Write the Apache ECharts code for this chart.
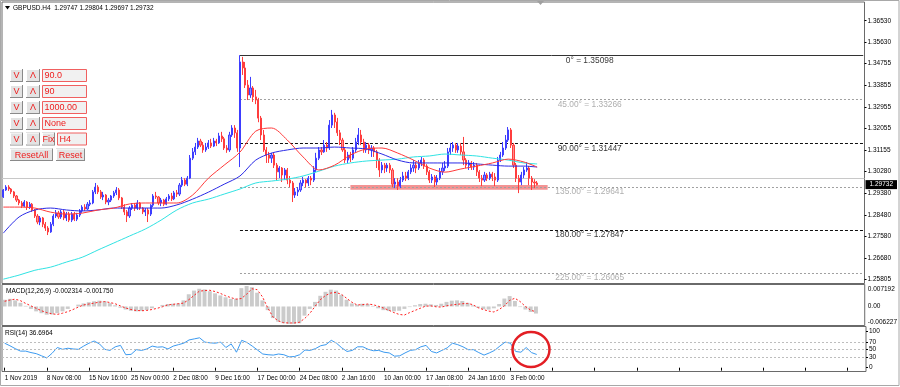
<!DOCTYPE html>
<html><head><meta charset="utf-8">
<script src="https://cdn.jsdelivr.net/npm/echarts@6/dist/echarts.min.js"></script>
<style>html,body{margin:0;padding:0;background:#fff}#c{width:900px;height:387px}</style>
</head><body><div id="c"></div>
<script>
// ---------- DATA ----------
const chartTitle = 'GBPUSD.H4  1.29747 1.29804 1.29697 1.29732';
const macdTitle = 'MACD(12,26,9) -0.002314 -0.001750';
const rsiTitle = 'RSI(14) 36.6964';
const dateTicks = ['1 Nov 2019','8 Nov 08:00','15 Nov 16:00','25 Nov 00:00','2 Dec 08:00','9 Dec 16:00','17 Dec 00:00','24 Dec 08:00','2 Jan 16:00','10 Jan 00:00','17 Jan 08:00','24 Jan 16:00','3 Feb 00:00'];
const totalSlots = 328;      // price slots (2 H4 bars each) incl. right shift
const indSlots = 164;        // indicator slots (4 H4 bars each)
const slotsPerDateTick = 8;  // indicator slots between date labels
const priceTicks = [1.36530,1.35630,1.34755,1.33855,1.32955,1.32055,1.31155,1.30280,1.29380,1.28480,1.27580,1.26680,1.25805];
const priceRange = [1.25631, 1.37306];
const lastPrice = 1.29732;
// [open, close, low, high]
const candles = [
[1.2922,1.2951,1.2918,1.2955],[1.2951,1.2963,1.2947,1.2971],[1.2963,1.2955,1.2947,1.2971],[1.2955,1.2943,1.2934,1.2959],
[1.2943,1.2926,1.2918,1.2947],[1.2926,1.2909,1.2901,1.2930],[1.2909,1.2897,1.2888,1.2914],[1.2897,1.2884,1.2876,1.2905],
[1.2884,1.2901,1.2880,1.2909],[1.2901,1.2880,1.2868,1.2905],[1.2880,1.2892,1.2872,1.2901],[1.2892,1.2868,1.2860,1.2897],
[1.2868,1.2843,1.2835,1.2872],[1.2843,1.2818,1.2809,1.2851],[1.2818,1.2835,1.2805,1.2843],[1.2835,1.2809,1.2797,1.2839],
[1.2809,1.2793,1.2781,1.2818],[1.2793,1.2777,1.2764,1.2801],[1.2777,1.2809,1.2773,1.2818],[1.2809,1.2843,1.2801,1.2851],
[1.2843,1.2856,1.2835,1.2868],[1.2856,1.2839,1.2831,1.2864],[1.2839,1.2860,1.2831,1.2868],[1.2860,1.2835,1.2826,1.2868],
[1.2835,1.2851,1.2822,1.2860],[1.2851,1.2826,1.2818,1.2860],[1.2826,1.2851,1.2818,1.2860],[1.2851,1.2830,1.2822,1.2860],
[1.2830,1.2847,1.2822,1.2856],[1.2847,1.2864,1.2839,1.2872],[1.2864,1.2880,1.2856,1.2888],[1.2880,1.2872,1.2864,1.2892],
[1.2872,1.2892,1.2868,1.2901],[1.2892,1.2897,1.2884,1.2909],[1.2897,1.2943,1.2892,1.2951],[1.2943,1.2963,1.2934,1.2980],
[1.2963,1.2943,1.2934,1.2971],[1.2943,1.2922,1.2914,1.2951],[1.2922,1.2930,1.2909,1.2943],[1.2930,1.2901,1.2892,1.2934],
[1.2901,1.2909,1.2888,1.2918],[1.2909,1.2926,1.2901,1.2930],[1.2926,1.2939,1.2918,1.2947],[1.2939,1.2951,1.2930,1.2963],
[1.2951,1.2918,1.2909,1.2959],[1.2918,1.2880,1.2872,1.2922],[1.2880,1.2860,1.2847,1.2892],[1.2860,1.2843,1.2818,1.2868],
[1.2843,1.2876,1.2835,1.2884],[1.2876,1.2888,1.2868,1.2897],[1.2888,1.2876,1.2864,1.2897],[1.2876,1.2897,1.2868,1.2909],
[1.2897,1.2876,1.2868,1.2901],[1.2876,1.2860,1.2851,1.2880],[1.2860,1.2868,1.2843,1.2876],[1.2868,1.2851,1.2818,1.2876],
[1.2851,1.2888,1.2843,1.2892],[1.2888,1.2926,1.2880,1.2934],[1.2926,1.2922,1.2914,1.2943],[1.2922,1.2897,1.2888,1.2926],
[1.2897,1.2909,1.2884,1.2918],[1.2909,1.2892,1.2884,1.2914],[1.2892,1.2914,1.2888,1.2922],[1.2914,1.2926,1.2905,1.2934],
[1.2926,1.2914,1.2905,1.2939],[1.2914,1.2939,1.2909,1.2947],[1.2939,1.2934,1.2922,1.2951],[1.2934,1.2971,1.2926,1.2980],
[1.2971,1.2992,1.2963,1.3005],[1.2992,1.2975,1.2967,1.3000],[1.2975,1.3000,1.2967,1.3009],[1.3000,1.3083,1.2996,1.3096],
[1.3083,1.3109,1.3075,1.3125],[1.3109,1.3129,1.3096,1.3146],[1.3129,1.3154,1.3121,1.3167],[1.3154,1.3137,1.3129,1.3163],
[1.3137,1.3117,1.3105,1.3150],[1.3117,1.3129,1.3109,1.3146],[1.3129,1.3146,1.3121,1.3158],[1.3146,1.3133,1.3125,1.3163],
[1.3133,1.3154,1.3129,1.3167],[1.3154,1.3146,1.3133,1.3163],[1.3146,1.3175,1.3142,1.3188],[1.3175,1.3163,1.3150,1.3192],
[1.3163,1.3125,1.3117,1.3171],[1.3125,1.3117,1.3105,1.3137],[1.3117,1.3179,1.3109,1.3192],[1.3179,1.3208,1.3171,1.3220],
[1.3208,1.3188,1.3167,1.3220],[1.3188,1.3125,1.3109,1.3200],[1.3125,1.3482,1.3046,1.3510],[1.3482,1.3457,1.3428,1.3503],
[1.3457,1.3386,1.3374,1.3482],[1.3386,1.3345,1.3324,1.3407],[1.3345,1.3374,1.3333,1.3420],[1.3374,1.3337,1.3316,1.3382],
[1.3337,1.3324,1.3307,1.3366],[1.3324,1.3249,1.3232,1.3333],[1.3249,1.3179,1.3158,1.3258],[1.3179,1.3117,1.3109,1.3200],
[1.3117,1.3096,1.3063,1.3129],[1.3096,1.3083,1.3063,1.3109],[1.3083,1.3096,1.3063,1.3105],[1.3096,1.3054,1.3042,1.3105],
[1.3054,1.3026,1.2992,1.3063],[1.3026,1.3042,1.3000,1.3050],[1.3042,1.3013,1.2984,1.3046],[1.3013,1.3034,1.2992,1.3042],
[1.3034,1.2992,1.2975,1.3042],[1.2992,1.2980,1.2963,1.3009],[1.2980,1.2930,1.2901,1.2988],[1.2930,1.2943,1.2918,1.2959],
[1.2943,1.2951,1.2926,1.2963],[1.2951,1.2980,1.2943,1.2992],[1.2980,1.2992,1.2967,1.3005],[1.2992,1.2980,1.2963,1.2996],
[1.2980,1.3000,1.2967,1.3009],[1.3000,1.2992,1.2971,1.3009],[1.2992,1.3034,1.2984,1.3050],[1.3034,1.3083,1.3025,1.3105],
[1.3083,1.3117,1.3075,1.3129],[1.3117,1.3109,1.3096,1.3129],[1.3109,1.3137,1.3105,1.3158],[1.3137,1.3125,1.3109,1.3150],
[1.3125,1.3220,1.3117,1.3241],[1.3220,1.3262,1.3208,1.3283],[1.3262,1.3233,1.3208,1.3271],[1.3233,1.3188,1.3175,1.3250],
[1.3188,1.3158,1.3137,1.3200],[1.3158,1.3117,1.3109,1.3167],[1.3117,1.3075,1.3063,1.3125],[1.3075,1.3096,1.3063,1.3109],
[1.3096,1.3083,1.3067,1.3109],[1.3083,1.3117,1.3075,1.3129],[1.3117,1.3150,1.3105,1.3167],[1.3150,1.3179,1.3137,1.3208],
[1.3179,1.3150,1.3137,1.3200],[1.3150,1.3117,1.3105,1.3163],[1.3117,1.3137,1.3105,1.3150],[1.3137,1.3117,1.3100,1.3146],
[1.3117,1.3125,1.3088,1.3137],[1.3125,1.3109,1.3088,1.3133],[1.3109,1.3075,1.3042,1.3117],[1.3075,1.3034,1.3005,1.3083],
[1.3034,1.3054,1.3021,1.3067],[1.3054,1.3042,1.3021,1.3063],[1.3042,1.3054,1.3026,1.3063],[1.3054,1.3034,1.3021,1.3063],
[1.3034,1.2975,1.2963,1.3042],[1.2975,1.2984,1.2959,1.3000],[1.2984,1.2967,1.2951,1.3000],[1.2967,1.2992,1.2959,1.3005],
[1.2992,1.3009,1.2984,1.3026],[1.3009,1.3000,1.2988,1.3026],[1.3000,1.3026,1.2992,1.3034],[1.3026,1.3042,1.3017,1.3058],
[1.3042,1.3054,1.3026,1.3075],[1.3054,1.3042,1.3021,1.3067],[1.3042,1.3063,1.3034,1.3075],[1.3063,1.3075,1.3050,1.3088],
[1.3075,1.3050,1.3038,1.3083],[1.3050,1.3026,1.3013,1.3058],[1.3026,1.2992,1.2980,1.3034],[1.2992,1.3005,1.2980,1.3017],
[1.3005,1.2984,1.2963,1.3013],[1.2984,1.3000,1.2971,1.3013],[1.3000,1.3026,1.2992,1.3042],[1.3026,1.3042,1.3013,1.3063],
[1.3042,1.3050,1.3030,1.3071],[1.3050,1.3109,1.3042,1.3125],[1.3109,1.3125,1.3096,1.3146],[1.3125,1.3137,1.3109,1.3150],
[1.3137,1.3117,1.3105,1.3146],[1.3117,1.3133,1.3105,1.3146],[1.3133,1.3109,1.3096,1.3146],[1.3109,1.3075,1.3054,1.3171],
[1.3075,1.3054,1.3042,1.3083],[1.3054,1.3063,1.3034,1.3075],[1.3063,1.3046,1.3034,1.3071],[1.3046,1.3054,1.3034,1.3067],
[1.3054,1.3026,1.3009,1.3063],[1.3026,1.3000,1.2984,1.3034],[1.3000,1.2992,1.2967,1.3013],[1.2992,1.3013,1.2984,1.3026],
[1.3013,1.3000,1.2988,1.3021],[1.3000,1.3017,1.2992,1.3026],[1.3017,1.3005,1.2988,1.3026],[1.3005,1.2992,1.2967,1.3021],
[1.2992,1.3075,1.2984,1.3088],[1.3075,1.3096,1.3067,1.3109],[1.3096,1.3125,1.3088,1.3150],[1.3125,1.3158,1.3117,1.3179],
[1.3158,1.3200,1.3150,1.3212],[1.3200,1.3137,1.3125,1.3208],[1.3137,1.3054,1.3042,1.3146],[1.3054,1.3000,1.2984,1.3063],
[1.3000,1.2984,1.2938,1.3013],[1.2984,1.3013,1.2971,1.3026],[1.3013,1.3034,1.3000,1.3046],[1.3034,1.3042,1.3026,1.3067],
[1.3042,1.3000,1.2971,1.3050],[1.3000,1.2984,1.2951,1.3009],[1.2984,1.2980,1.2959,1.2996],[1.2980,1.2973,1.2970,1.2988]
];
const maSlots = [0,6,12,18,24,30,36,42,48,54,60,66,72,78,84,90,96,102,108,114,120,126,132,138,144,150,156,162,168,174,180,186,192,198,203];
const maRed  = [1.2880,1.2880,1.2876,1.2859,1.2851,1.2855,1.2868,1.2876,1.2893,1.2897,1.2897,1.2897,1.2930,1.3000,1.3054,1.3108,1.3195,1.3208,1.3158,1.3088,1.3034,1.3054,1.3096,1.3121,1.3125,1.3104,1.3075,1.3042,1.3025,1.3038,1.3050,1.3063,1.3079,1.3067,1.3046];
const maBlue = [1.2772,1.2839,1.2868,1.2876,1.2868,1.2864,1.2868,1.2876,1.2876,1.2876,1.2876,1.2889,1.2913,1.2942,1.2975,1.3009,1.3075,1.3104,1.3117,1.3125,1.3125,1.3129,1.3125,1.3121,1.3100,1.3075,1.3063,1.3063,1.3063,1.3063,1.3059,1.3054,1.3050,1.3050,1.3046];
const maCyan = [1.2581,1.2598,1.2618,1.2631,1.2652,1.2672,1.2702,1.2731,1.2760,1.2789,1.2826,1.2868,1.2897,1.2913,1.2934,1.2955,1.2980,1.2988,1.2996,1.3009,1.3029,1.3050,1.3063,1.3071,1.3075,1.3079,1.3088,1.3092,1.3100,1.3096,1.3092,1.3083,1.3075,1.3063,1.3059];
const gannStartSlot = 90;
const gannLabelSlot = 223;
const gannLevels = [1.35098,1.33266,1.31447,1.29641,1.27847,1.26065];
const gannNames = ['0°','45.00°','90.00°','135.00°','180.00°','225.00°'];
const zoneSlots = [132, 207];
const zonePrices = [1.2972, 1.2952];
const macdMain = [0.0022,0.0025,0.0020,0.0012,0.0002,-0.0008,-0.0016,-0.0022,-0.0027,-0.0026,
-0.0022,-0.0016,-0.0008,0.0000,0.0006,0.0010,0.0014,0.0017,0.0019,0.0017,
0.0011,0.0004,-0.0004,-0.0010,-0.0014,-0.0016,-0.0015,-0.0012,-0.0006,0.0000,
0.0005,0.0008,0.0009,0.0010,0.0020,0.0040,0.0052,0.0058,0.0056,0.0050,
0.0043,0.0036,0.0030,0.0025,0.0025,0.0060,0.0067,0.0063,0.0045,0.0020,
-0.0012,-0.0038,-0.0050,-0.0055,-0.0057,-0.0057,-0.0055,-0.0030,-0.0008,0.0015,
0.0035,0.0048,0.0055,0.0052,0.0038,0.0022,0.0010,0.0006,0.0009,0.0008,
0.0002,-0.0006,-0.0012,-0.0015,-0.0016,-0.0014,-0.0008,-0.0002,0.0004,0.0008,
0.0009,0.0007,0.0005,0.0009,0.0015,0.0019,0.0020,0.0018,0.0012,0.0004,
-0.0004,-0.0009,-0.0010,-0.0006,0.0008,0.0026,0.0034,0.0018,-0.0002,-0.0010,
-0.0018,-0.002314];
const macdSignal = [0.0017,0.0021,0.0024,0.0019,0.0010,0.0002,-0.0006,-0.0014,-0.0020,-0.0024,
-0.0026,-0.0022,-0.0017,-0.0010,-0.0002,0.0005,0.0008,0.0011,0.0014,0.0016,
0.0013,0.0009,0.0002,-0.0005,-0.0010,-0.0013,-0.0014,-0.0013,-0.0010,-0.0006,
-0.0001,0.0005,0.0007,0.0009,0.0011,0.0022,0.0036,0.0050,0.0052,0.0053,
0.0049,0.0043,0.0035,0.0029,0.0024,0.0026,0.0040,0.0058,0.0055,0.0032,
-0.0004,-0.0034,-0.0047,-0.0053,-0.0054,-0.0054,-0.0052,-0.0040,-0.0023,0.0000,
0.0022,0.0036,0.0044,0.0046,0.0040,0.0027,0.0014,0.0005,0.0006,0.0008,
0.0006,0.0001,-0.0005,-0.0012,-0.0020,-0.0026,-0.0028,-0.0020,-0.0013,-0.0006,
0.0001,0.0002,-0.0001,-0.0002,0.0002,0.0005,0.0007,0.0009,0.0010,0.0006,
-0.0004,-0.0010,-0.0015,-0.0018,-0.0010,0.0002,0.0020,0.0027,0.0016,0.0000,
-0.0012,-0.00175];
const macdRange = [-0.006227, 0.007192];
const macdTicks = [0.007192, 0, -0.006227];
const rsi = [68,61,53,46,46,42,39,33,27,40,56,51,54,52,51,60,68,74,66,51,
48,58,62,36,37,50,48,52,60,57,58,52,60,64,68,77,80,83,71,69,
68,71,56,66,43,76,70,60,49,38,36,35,38,36,30,31,36,49,48,53,
61,64,76,68,55,45,48,58,58,51,47,48,43,41,32,33,41,48,50,58,
62,45,41,48,55,68,64,58,50,50,42,35,41,48,60,71,68,45,43,56,
42,36.6964];
const rsiTicks = [100,70,50,30,0];
const rsiLevels = [70,50,30];
const rsiRange = [-10.6, 114.4];

// ---------- CHART ----------
const F = "'Liberation Sans', Arial, sans-serif";
const RED = '#ee1c1c';
const chart = echarts.init(document.getElementById('c'));

const slotCats = Array.from({length: totalSlots}, (_, i) => String(i));
const indCats = Array.from({length: indSlots}, (_, i) =>
  i % slotsPerDateTick === 0 && dateTicks[i / slotsPerDateTick] ? dateTicks[i / slotsPerDateTick] : '');

const gannStyle = i => i === 0 ? {color:'#333', width:1, type:'solid'}
  : (i % 2 === 1 ? {color:'#a0a0a0', width:1, type:[2,2]} : {color:'#111', width:1, type:[3,2]});

const markLineData = [
  {yAxis: lastPrice, lineStyle:{color:'#c8c8c8', width:1, type:'solid'}}
];
gannLevels.forEach((v, i) => {
  markLineData.push([{coord:[gannStartSlot, v], lineStyle: gannStyle(i)}, {coord:[totalSlots - 1, v]}]);
});

function button(x, y, w, h, text) {
  return {type:'group', children:[
    {type:'rect', shape:{x:x, y:y, width:w, height:h}, style:{fill:'#8a8a8a'}},
    {type:'rect', shape:{x:x, y:y, width:w-1, height:h-1}, style:{fill:'#ffffff'}},
    {type:'rect', shape:{x:x+1, y:y+1, width:w-2, height:h-2}, style:{fill:'#e3e3e3'}},
    {type:'text', x:x+w/2, y:y+h/2+0.5, style:{text:text, fill:RED, font:'9px ' + F, textAlign:'center', textVerticalAlign:'middle'}}
  ]};
}
function box(x, y, w, h, text) {
  return {type:'group', children:[
    {type:'rect', shape:{x:x+0.5, y:y+0.5, width:w, height:h}, style:{fill:'#f1f1f1', stroke:'#f06060', lineWidth:1}},
    {type:'text', x:x+2.5, y:y+h/2+1, style:{text:text, fill:RED, font:'9px ' + F, textAlign:'left', textVerticalAlign:'middle'}}
  ]};
}
const rowsY = [69, 85, 101, 117, 132.5];
const boxTexts = ['90.0', '90', '1000.00', 'None'];
const gfx = [];
rowsY.forEach((y, i) => {
  gfx.push(button(10, y, 13, 13, 'V'));
  gfx.push(button(26, y, 14, 13, 'Λ'));
  if (i < 4) gfx.push(box(42, y, 44, 12, boxTexts[i]));
});
gfx.push(button(42, 132.5, 13, 13, 'Fix'));
gfx.push(box(57, 132.5, 29, 12, 'H4'));
gfx.push(button(10, 148.5, 43, 12.5, 'ResetAll'));
gfx.push(button(56, 148.5, 29, 12.5, 'Reset'));
// titles
gfx.push({type:'polygon', shape:{points:[[5,6],[10,6],[7.5,9.5]]}, style:{fill:'#000'}});
gfx.push({type:'text', x:13, y:8, style:{text:chartTitle, fill:'#000', font:'6.5px ' + F, textVerticalAlign:'middle'}});
gfx.push({type:'text', x:6, y:291, style:{text:macdTitle, fill:'#000', font:'6.5px ' + F, textVerticalAlign:'middle'}});
gfx.push({type:'text', x:5, y:333, style:{text:rsiTitle, fill:'#000', font:'6.5px ' + F, textVerticalAlign:'middle'}});
// annotation circle
gfx.push({type:'ellipse', shape:{cx:531, cy:349.5, rx:18.5, ry:17.5}, style:{fill:'none', stroke:'#e31e24', lineWidth:2.5}, z:100});
// window frame + shift marker
gfx.push({type:'rect', shape:{x:0.5, y:0.5, width:898.5, height:385}, style:{fill:'none', stroke:'#a8a8a8', lineWidth:1}, z:-1});
gfx.push({type:'polygon', shape:{points:[[537,1],[544,1],[540.5,5]]}, style:{fill:'#a0a0a0'}});

const axisLabelBase = {color:'#000', fontSize:6.5, fontFamily:F};
const edgeRich = {
  t: {padding:[9,0,0,0], color:'#000', fontSize:6.5, fontFamily:F},
  b: {padding:[0,0,7,0], color:'#000', fontSize:6.5, fontFamily:F}
};

const option = {
  animation: false,
  backgroundColor: '#fff',
  grid: [
    {left:2, right:34, top:2, height:281.5, show:true, borderColor:'#6a6a6a', borderWidth:1},
    {left:2, right:34, top:284.5, height:41, show:true, borderColor:'#6a6a6a', borderWidth:1},
    {left:2, right:34, top:326.5, height:45, show:true, borderColor:'#6a6a6a', borderWidth:1}
  ],
  xAxis: [
    {type:'category', gridIndex:0, data:slotCats, boundaryGap:true, axisLine:{show:false}, axisTick:{show:false}, axisLabel:{show:false}, splitLine:{show:false}},
    {type:'category', gridIndex:1, data:indCats, boundaryGap:true, axisLine:{show:false}, axisTick:{show:false}, axisLabel:{show:false}},
    {type:'category', gridIndex:2, data:indCats, boundaryGap:true, axisLine:{show:false},
     axisTick:{show:true, alignWithLabel:true, length:3, lineStyle:{color:'#000'}, interval:(i) => i % slotsPerDateTick === 0},
     axisLabel:{show:true, interval:(i) => i % slotsPerDateTick === 0, align:'left', margin:4, color:'#000', fontSize:6.4, fontFamily:F}}
  ],
  yAxis: [
    {type:'value', gridIndex:0, position:'right', min:priceRange[0], max:priceRange[1], splitLine:{show:false}, axisLine:{show:false},
     axisTick:{show:true, length:2, customValues:priceTicks, lineStyle:{color:'#000'}},
     axisLabel:Object.assign({customValues:priceTicks, margin:3, formatter:v => v.toFixed(5)}, axisLabelBase)},
    {type:'value', gridIndex:1, position:'right', min:macdRange[0], max:macdRange[1], splitLine:{show:false}, axisLine:{show:false},
     axisTick:{show:false},
     axisLabel:Object.assign({customValues:macdTicks, margin:3, rich:edgeRich,
       formatter:v => v === macdRange[1] ? '{t|' + v.toFixed(6) + '}' : (v === macdRange[0] ? '{b|' + v.toFixed(6) + '}' : '0.00')}, axisLabelBase)},
    {type:'value', gridIndex:2, position:'right', min:rsiRange[0], max:rsiRange[1], splitLine:{show:false}, axisLine:{show:false},
     axisTick:{show:true, length:2, customValues:rsiTicks, lineStyle:{color:'#000'}},
     axisLabel:Object.assign({customValues:rsiTicks, margin:3, formatter:v => String(v)}, axisLabelBase)},
    {type:'value', gridIndex:0, position:'right', min:priceRange[0], max:priceRange[1], splitLine:{show:false}, axisLine:{show:false},
     axisTick:{show:false},
     axisLabel:{customValues:[lastPrice], margin:1, formatter:v => v.toFixed(5), color:'#fff', backgroundColor:'#000',
       padding:[1,4,1,4], fontSize:6.5, fontFamily:F}}
  ],
  series: [
    {type:'candlestick', xAxisIndex:0, yAxisIndex:0, data:candles, barWidth:1.6, z:2,
     itemStyle:{color:'#8c8cff', color0:'#ff8c8c', borderColor:'#3d3dff', borderColor0:'#ff3d3d', borderWidth:1},
     markLine:{silent:true, symbol:['none','none'], label:{show:false}, data:markLineData, z:1},
     markArea:{silent:true, itemStyle:{color:'rgba(238,105,105,0.72)'},
       data:[[{coord:[zoneSlots[0], zonePrices[0]]}, {coord:[zoneSlots[1], zonePrices[1]]}]]}},
    {type:'line', xAxisIndex:0, yAxisIndex:0, data:maSlots.map((s,i)=>[s, maCyan[i]]), showSymbol:false, smooth:0.3, z:3, lineStyle:{color:'#2fe3e3', width:1}},
    {type:'line', xAxisIndex:0, yAxisIndex:0, data:maSlots.map((s,i)=>[s, maBlue[i]]), showSymbol:false, smooth:0.3, z:3, lineStyle:{color:'#2a2ae6', width:1}},
    {type:'line', xAxisIndex:0, yAxisIndex:0, data:maSlots.map((s,i)=>[s, maRed[i]]), showSymbol:false, smooth:0.3, z:3, lineStyle:{color:'#ff3a3a', width:1}},
    {type:'scatter', xAxisIndex:0, yAxisIndex:0, symbolSize:0, silent:true, z:4,
     data:gannLevels.map((v,i)=>({value:[gannLabelSlot, v], label:{color: i % 2 === 1 ? '#9a9a9a' : '#000'}})),
     label:{show:true, position:'bottom', distance:1, fontSize:8.4, fontFamily:F,
       formatter:p => gannNames[p.dataIndex] + ' = ' + gannLevels[p.dataIndex].toFixed(5)}},
    {type:'bar', xAxisIndex:1, yAxisIndex:1, data:macdMain, barWidth:'75%', itemStyle:{color:'#cbcbcb'}},
    {type:'line', xAxisIndex:1, yAxisIndex:1, data:macdSignal, showSymbol:false, lineStyle:{color:'#ff2020', width:1, type:[2,2]}},
    {type:'line', xAxisIndex:2, yAxisIndex:2, data:rsi, showSymbol:false, lineStyle:{color:'#3b9af0', width:1},
     markLine:{silent:true, symbol:['none','none'], label:{show:false},
       lineStyle:{color:'#bdbdbd', width:1, type:[2,2]}, data:rsiLevels.map(v=>({yAxis:v}))}}
  ],
  graphic: gfx
};
chart.setOption(option);
</script></body></html>
